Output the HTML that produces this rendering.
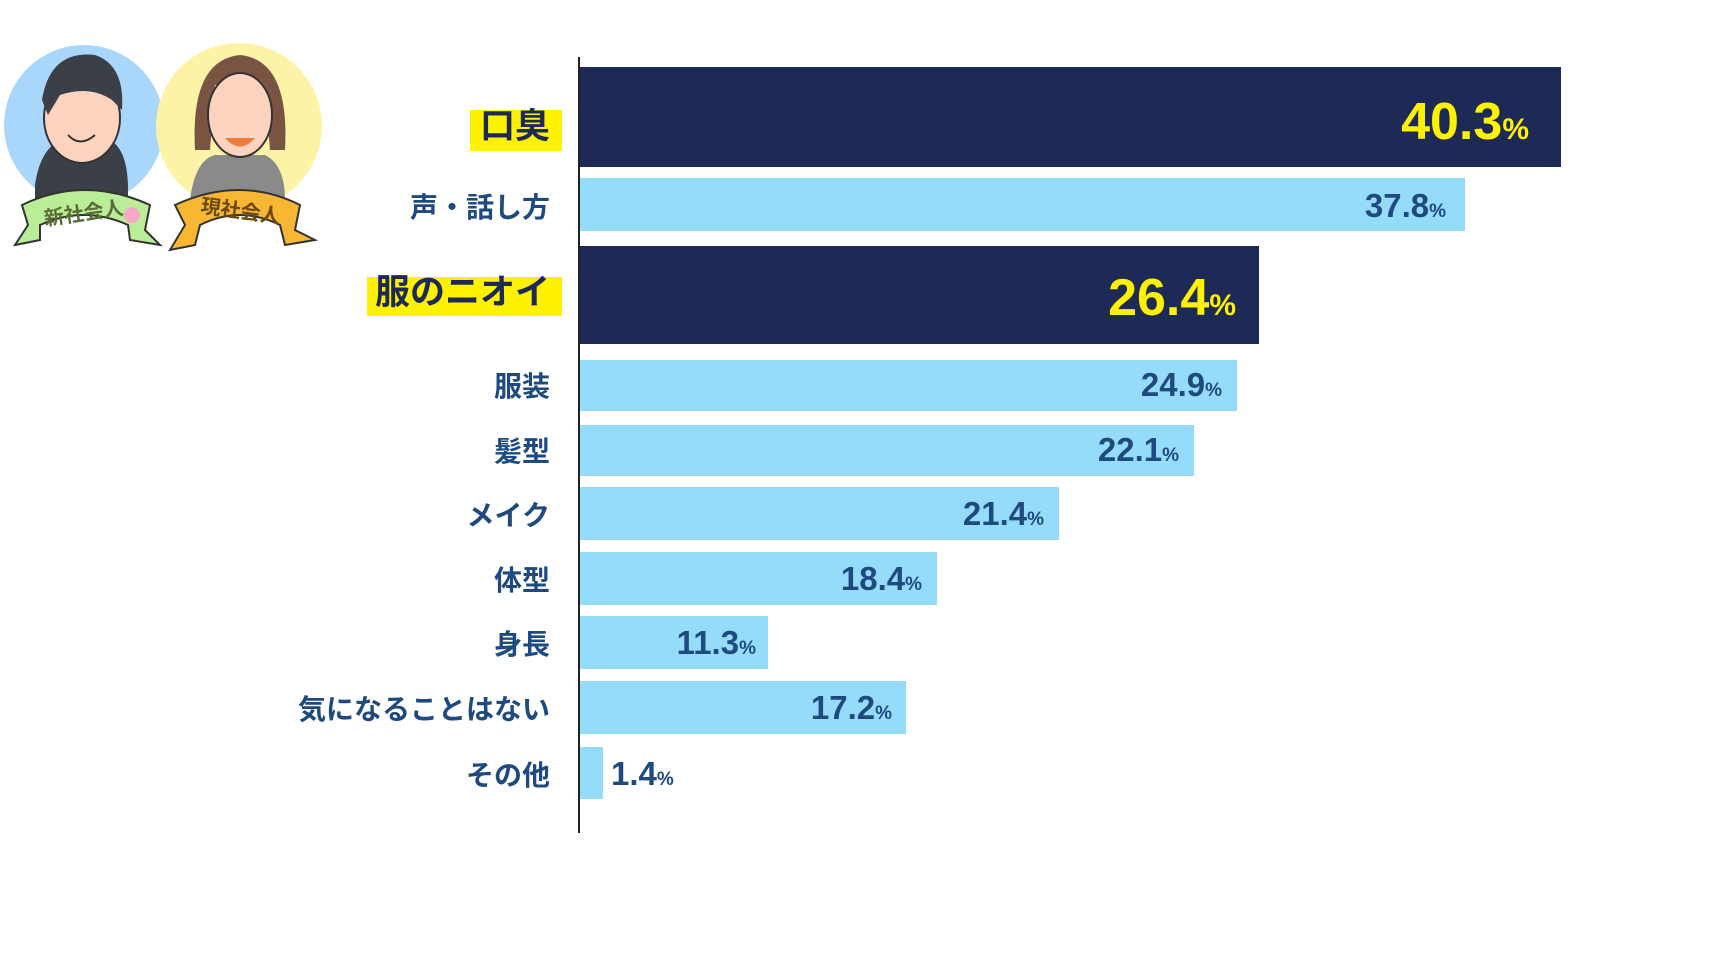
<!DOCTYPE html>
<html><head><meta charset="utf-8"><style>
html,body{margin:0;padding:0;background:#fff;}
body{width:1716px;height:956px;position:relative;overflow:hidden;font-family:"Liberation Sans","Noto Sans CJK JP",sans-serif;}
.bar{position:absolute;left:580px;}
.d{background:#1c2a55;}
.l{background:#95dbfa;}
.lab{position:absolute;right:1166px;color:#1f4a80;font-weight:bold;font-size:28px;line-height:1;white-space:nowrap;font-family:"Noto Sans CJK JP",sans-serif;}
.hl{position:absolute;background:#fff200;}
.big{font-size:35px;color:#1c2a55;}
.v{position:absolute;font-weight:bold;white-space:nowrap;line-height:1;font-family:"Liberation Sans",sans-serif;}
.vl{color:#1f4a80;font-size:33px;}
.vl small{font-size:19px;}
.vd{color:#fff200;font-size:52px;}
.vd small{font-size:30px;}
</style></head><body>
<svg style="position:absolute;left:0;top:40px" width="340" height="230">
<circle cx="84" cy="85" r="80" fill="#a9d6fb"/>
<circle cx="239" cy="86" r="83" fill="#fdf3a6"/>
<path d="M35 145 Q40 110 60 100 L110 100 Q128 110 128 150 L128 160 L35 160Z" fill="#3a3f48"/>
<ellipse cx="82" cy="78" rx="38" ry="45" fill="#fbd3bf" stroke="#333" stroke-width="2"/>
<path d="M42 60 Q50 10 95 15 Q125 25 122 70 L112 60 Q90 45 60 55 L48 75Z" fill="#3a3f48"/>
<path d="M68 95 Q80 108 95 95" stroke="#333" stroke-width="2" fill="none"/>
<path d="M190 160 Q195 120 215 115 L265 115 Q285 125 285 160Z" fill="#8a8a8a"/>
<path d="M195 110 Q190 20 240 15 Q290 20 285 110 L270 110 L265 50 L215 45 L210 110Z" fill="#7a5443"/>
<ellipse cx="240" cy="75" rx="32" ry="42" fill="#fbd3bf" stroke="#333" stroke-width="2"/>
<path d="M225 98 Q240 115 255 98Z" fill="#f07a3c"/>
<path d="M22 165 Q84 135 150 165 L145 190 L160 205 L130 200 L128 185 Q84 165 40 185 L40 200 L15 205 L28 185Z" fill="#b9ed98" stroke="#333" stroke-width="2"/>
<text x="84" y="180" text-anchor="middle" font-size="20" font-weight="bold" fill="#5b6b35" font-family="Noto Sans CJK JP,sans-serif" transform="rotate(-8 84 175)">新社会人</text>
<circle cx="132" cy="175" r="8" fill="#f7a8c8"/>
<path d="M175 165 Q240 135 300 165 L295 190 L315 200 L285 205 L280 185 Q240 165 200 185 L195 205 L170 210 L185 185Z" fill="#f7b733" stroke="#333" stroke-width="2"/>
<text x="240" y="178" text-anchor="middle" font-size="20" font-weight="bold" fill="#6b4a10" font-family="Noto Sans CJK JP,sans-serif" transform="rotate(8 240 175)">現社会人</text>
</svg>

<div style="position:absolute;left:578px;top:57px;width:2px;height:776px;background:#222"></div>

<div class="bar d" style="top:67px;width:981px;height:100px"></div>
<div class="bar l" style="top:178px;width:885px;height:53px"></div>
<div class="bar d" style="top:246px;width:679px;height:98px"></div>
<div class="bar l" style="top:360px;width:657px;height:51px"></div>
<div class="bar l" style="top:425px;width:614px;height:51px"></div>
<div class="bar l" style="top:487px;width:479px;height:53px"></div>
<div class="bar l" style="top:552px;width:357px;height:53px"></div>
<div class="bar l" style="top:616px;width:188px;height:53px"></div>
<div class="bar l" style="top:681px;width:326px;height:53px"></div>
<div class="bar l" style="top:747px;width:23px;height:52px"></div>

<div class="hl" style="left:470px;top:110px;width:92px;height:41px"></div>
<div class="hl" style="left:367px;top:277px;width:195px;height:39px"></div>
<div class="lab big" style="top:106px">口臭</div>
<div class="lab" style="top:192px">声・話し方</div>
<div class="lab big" style="top:272px">服のニオイ</div>
<div class="lab" style="top:371px">服装</div>
<div class="lab" style="top:436px">髪型</div>
<div class="lab" style="top:500px">メイク</div>
<div class="lab" style="top:565px">体型</div>
<div class="lab" style="top:629px">身長</div>
<div class="lab" style="top:694px">気になることはない</div>
<div class="lab" style="top:760px">その他</div>

<div class="v vd" style="right:187px;top:96px">40.3<small>%</small></div>
<div class="v vl" style="right:270px;top:189px">37.8<small>%</small></div>
<div class="v vd" style="right:480px;top:272px">26.4<small>%</small></div>
<div class="v vl" style="right:494px;top:368px">24.9<small>%</small></div>
<div class="v vl" style="right:537px;top:433px">22.1<small>%</small></div>
<div class="v vl" style="right:672px;top:497px">21.4<small>%</small></div>
<div class="v vl" style="right:794px;top:562px">18.4<small>%</small></div>
<div class="v vl" style="right:960px;top:626px">11.3<small>%</small></div>
<div class="v vl" style="right:824px;top:691px">17.2<small>%</small></div>
<div class="v vl" style="left:611px;top:757px">1.4<small>%</small></div>
</body></html>
